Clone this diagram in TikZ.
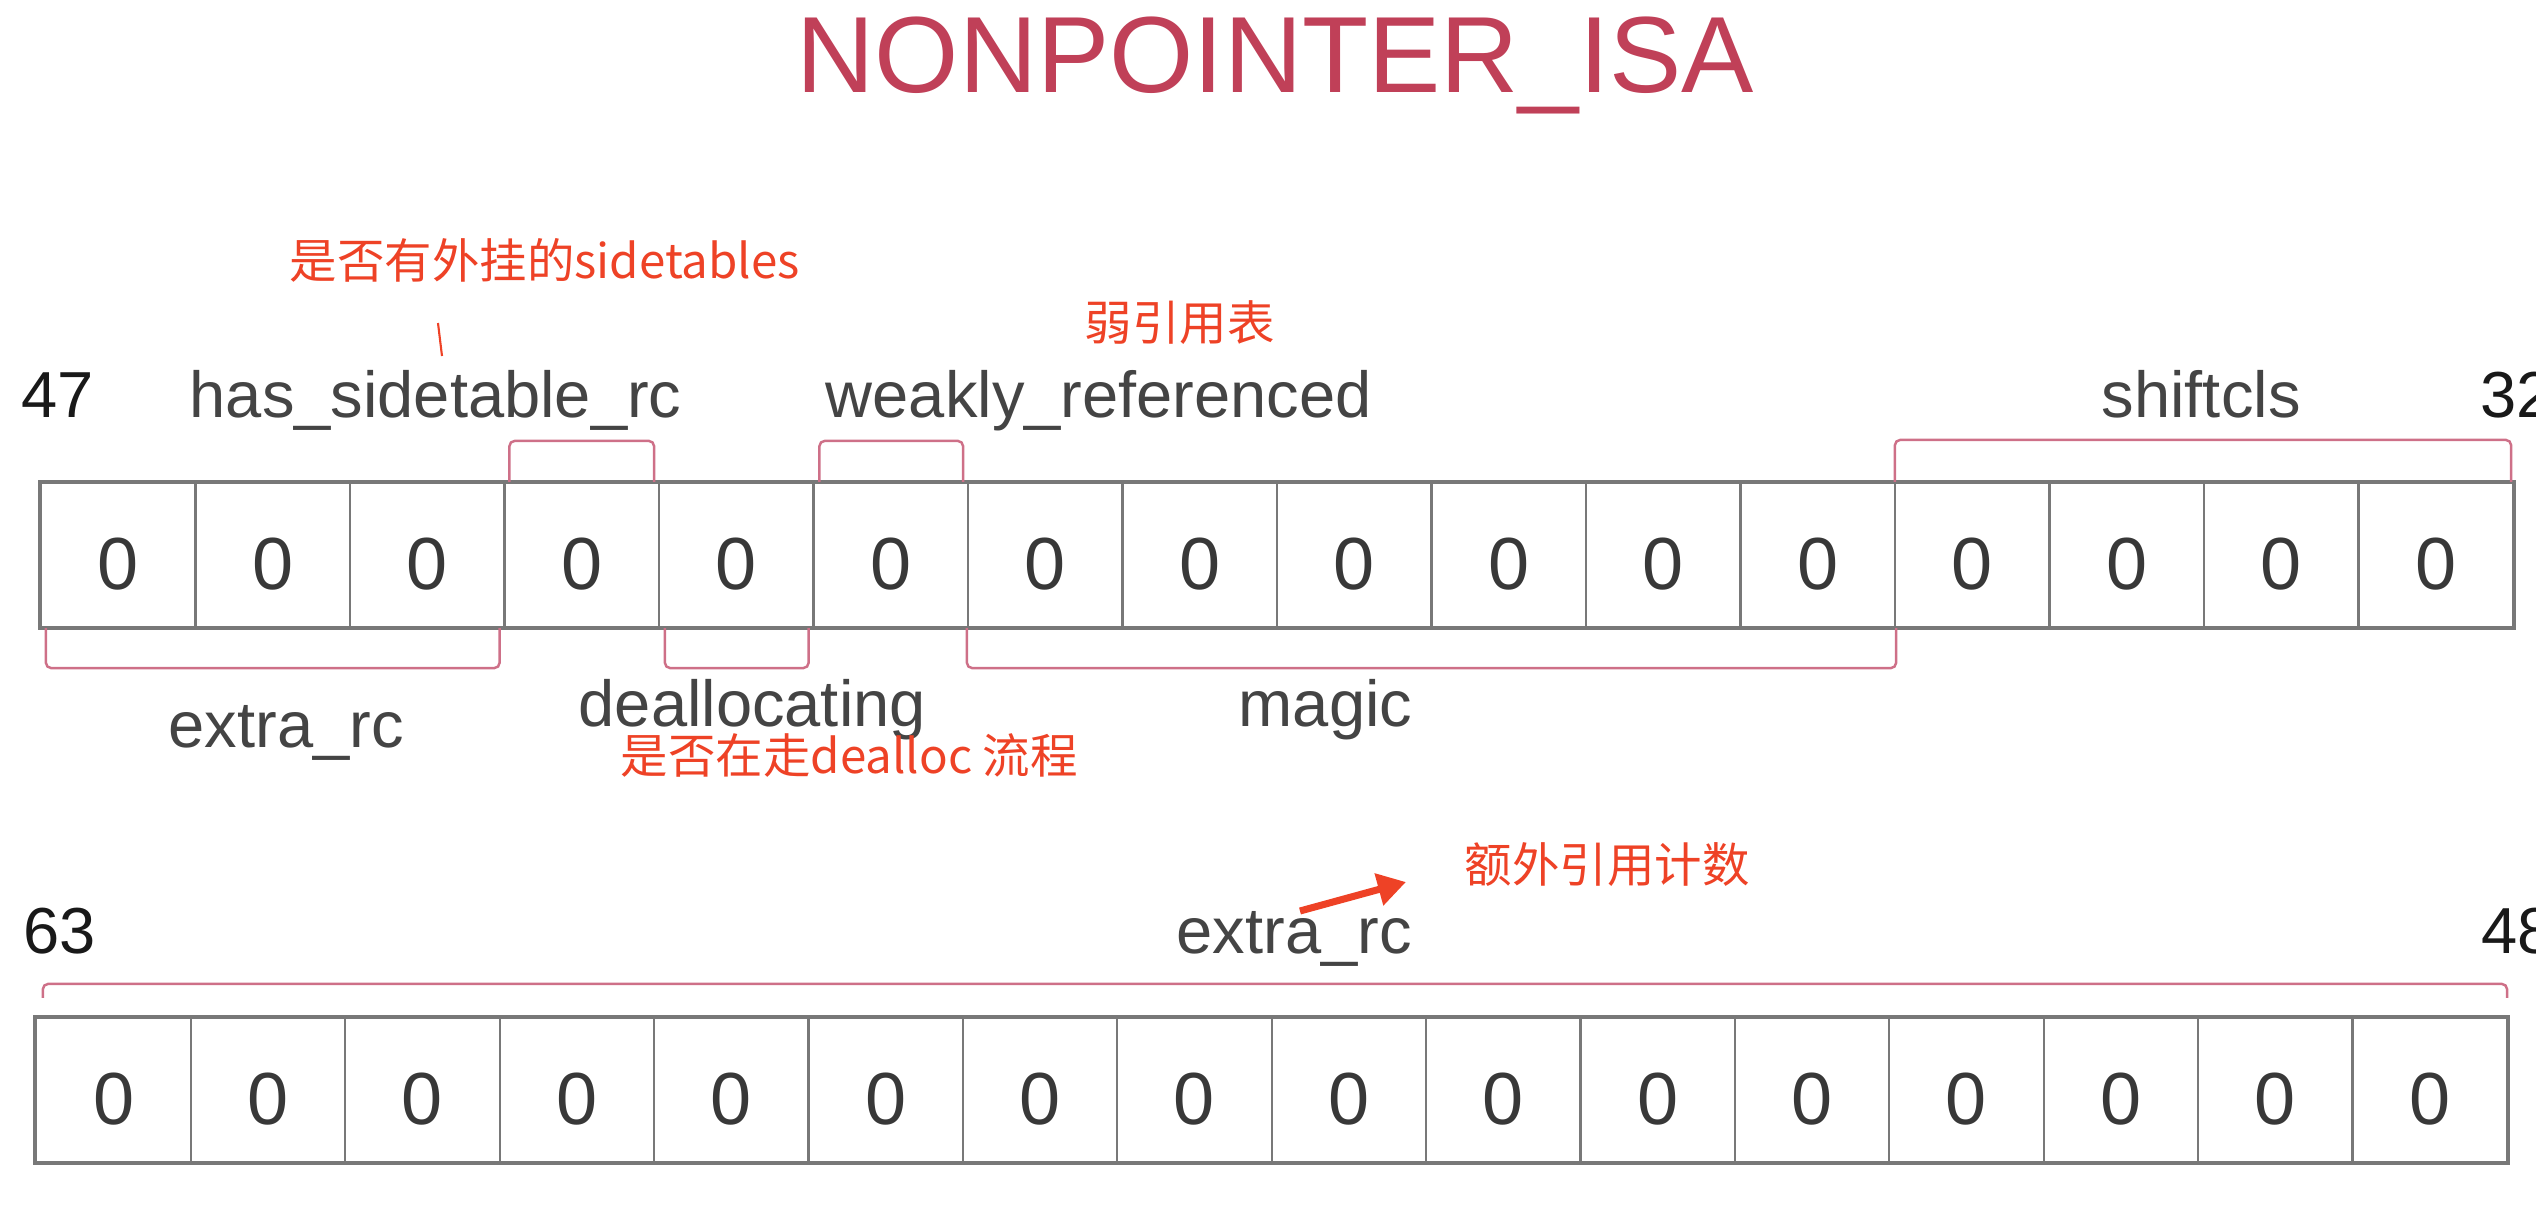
\documentclass[tikz,border=0pt]{standalone}
\usepackage{fontspec}
\setmainfont{Liberation Sans}
\newfontfamily\cjk{Noto Sans CJK SC}
\usetikzlibrary{arrows.meta,calc,positioning}
\definecolor{titlered}{RGB}{192,64,88}
\definecolor{notered}{RGB}{238,66,38}
\definecolor{brkpink}{RGB}{206,112,136}
\definecolor{cellgray}{RGB}{120,120,120}
\definecolor{labelgray}{RGB}{68,68,68}

\begin{document}
\begin{tikzpicture}[x=0.01cm, y=-0.01cm,
  cell/.style={draw=cellgray, line width=0.6pt, minimum width=1.545cm, minimum height=1.44cm,
               inner sep=0pt, text height=0.68cm, text depth=0pt,
               font=\fontsize{21}{21}\selectfont, text=black!78},
  field/.style={font=\fontsize{18.5}{18.5}\selectfont, text=labelgray, inner sep=0pt, anchor=base west},
  bitno/.style={field, text=black!90},
  note/.style={font=\cjk\fontsize{13.5}{13.5}\selectfont, text=notered, inner sep=0pt, anchor=west},
  brk/.style={draw=brkpink, line width=0.7pt, rounded corners=1.5pt},
  frame/.style={draw=cellgray, line width=1.1pt}]
\useasboundingbox (0,0) rectangle (2536,1212);
\node[font=\fontsize{30.8}{30.8}\selectfont, text=titlered, inner sep=0pt, anchor=base west] (title) at (796,92) {NONPOINTER\_ISA};
% bit cells, bits 47..32 and 63..48
\foreach \i in {0,...,15}{
  \node[cell] (t\i) at ({118.25+154.5*\i},555) {0};
  \node[cell] (b\i) at ({113.7+154.4*\i},1090) {0};
}
\draw[frame] (t0.north west) rectangle (t15.south east);
\draw[frame] (b0.north west) rectangle (b15.south east);
% field brackets
\draw[brk] ($(t3.north west)+(6,0)$) -- ++(0,-41) -| ($(t3.north east)+(-6,0)$);
\draw[brk] ($(t5.north west)+(7,0)$) -- ++(0,-41) -| ($(t5.north east)+(-6,0)$);
\draw[brk] ($(t12.north west)+(1,0)$) -- ++(0,-42) -| ($(t15.north east)+(-3,0)$);
\draw[brk] ($(t0.south west)+(6,0)$) -- ++(0,40) -| ($(t2.south east)+(-6,0)$);
\draw[brk] ($(t4.south west)+(7,0)$) -- ++(0,40) -| ($(t4.south east)+(-6,0)$);
\draw[brk] (t6.south west) -- ++(0,40) -| (t11.south east);
\draw[brk] ($(b0.north west)+(7.5,-19)$) -- ++(0,-14) -| ($(b15.north east)+(-1,-19)$);
% field names
\node[bitno] (n47) at (21,417) {47};
\node[field] (fsdt) at (189,417) {has\_sidetable\_rc};
\node[field] (fweak) at (825,417) {weakly\_referenced};
\node[field] (fshift) at (2101,417) {shiftcls};
\node[bitno] (n32) at (2480,417) {32};
\node[field] (fextlo) at (168,747) {extra\_rc};
\node[field] (fdealloc) at (578,726) {deallocating};
\node[field] (fmagic) at (1238,726) {magic};
\node[bitno] (n63) at (23,953) {63};
\node[field] (fexthi) at (1176,953) {extra\_rc};
\node[bitno] (n48) at (2481,953) {48};
% notes
\node[note] (nsdt) at (289,260) {是否有外挂的sidetables};
\node[note] (nweak) at (1084,323) {弱引用表};
\node[note] (ndealloc) at (620,755) {是否在走dealloc 流程};
\node[note] (nextra) at (1464,865) {额外引用计数};
\coordinate (tka) at (438,323);
\coordinate (tkb) at (442,356);
\draw[notered, line width=0.6pt] (tka) -- (tkb);
\coordinate (arra) at (1300,911);
\coordinate (arrb) at (1406,882);
\draw[notered, line width=2pt, -{Triangle[length=8pt,width=9pt]}] (arra) -- (arrb);
\end{tikzpicture}
\end{document}
